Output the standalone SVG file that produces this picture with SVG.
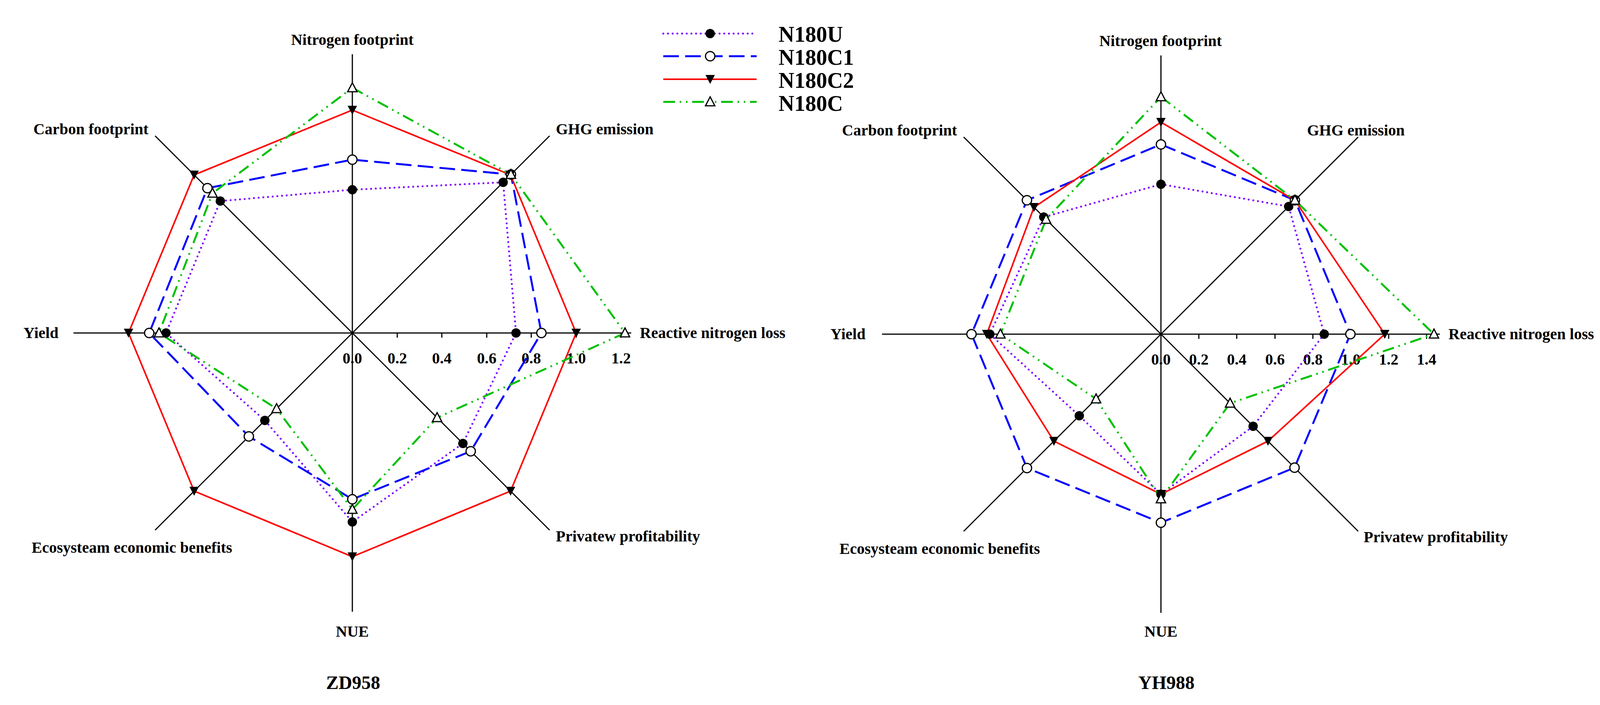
<svg xmlns="http://www.w3.org/2000/svg" xmlns:xlink="http://www.w3.org/1999/xlink" width="4168" height="1806" viewBox="0 0 4168 1806">
<style>
text{font-family:"Liberation Serif","Times New Roman",serif;font-weight:bold;fill:#000}
.lab{font-size:40px}
.tk{font-size:40px;text-anchor:middle}
.leg{font-size:56px}
.ttl{font-size:48px;text-anchor:middle}
.ax{stroke:#000;stroke-width:3;fill:none}
.u{stroke:#7f00ff;stroke-width:5;fill:none;stroke-dasharray:0 12;stroke-linecap:round}
.c1{stroke:#0000ff;stroke-width:5;fill:none;stroke-dasharray:40 16}
.c2{stroke:#ff0000;stroke-width:4;fill:none}
.c{stroke:#00c000;stroke-width:5;fill:none;stroke-dasharray:30 12 4 12 4 12}
</style>
<defs>
<circle id="mU" r="12" fill="#000"/>
<circle id="mC1" r="12" fill="#fff" stroke="#000" stroke-width="3"/>
<polygon id="mC2" points="-12,-11 12,-11 0,12" fill="#000"/>
<polygon id="mC" points="0,-13 12,10 -12,10" fill="#fff" stroke="#000" stroke-width="3"/>
</defs>
<rect width="4168" height="1806" fill="#fff"/>

<g id="legend">
<line class="u" x1="1698" y1="86" x2="1937" y2="86"/><use href="#mU" x="1818" y="86"/>
<line class="c1" x1="1698" y1="144" x2="1937" y2="144"/><use href="#mC1" x="1818" y="144"/>
<line class="c2" x1="1698" y1="203" x2="1937" y2="203"/><use href="#mC2" x="1818" y="203"/>
<line class="c" x1="1698" y1="261" x2="1937" y2="261"/><use href="#mC" x="1818" y="261"/>
<text class="leg" x="1993" y="107">N180U</text>
<text class="leg" x="1993" y="166">N180C1</text>
<text class="leg" x="1993" y="225">N180C2</text>
<text class="leg" x="1993" y="284">N180C</text>
</g>

<g id="chart-ZD958">
<g class="ax">
<line x1="902" y1="139" x2="902" y2="1567"/>
<line x1="188" y1="853" x2="1616" y2="853"/>
<line x1="397" y1="348" x2="1407" y2="1358"/>
<line x1="1407" y1="348" x2="397" y2="1358"/>
<path d="M1017 853v12M1131 853v12M1246 853v12M1360 853v12M1475 853v12M1590 853v12"/>
</g>
<text class="tk" x="902" y="931">0.0</text><text class="tk" x="1017" y="931">0.2</text><text class="tk" x="1131" y="931">0.4</text><text class="tk" x="1246" y="931">0.6</text><text class="tk" x="1360" y="931">0.8</text><text class="tk" x="1475" y="931">1.0</text><text class="tk" x="1590" y="931">1.2</text>
<text class="lab" x="902" y="115" text-anchor="middle">Nitrogen footprint</text>
<text class="lab" x="380" y="344" text-anchor="end">Carbon footprint</text>
<text class="lab" x="1423" y="344">GHG emission</text>
<text class="lab" x="60" y="866">Yield</text>
<text class="lab" x="1638" y="866">Reactive nitrogen loss</text>
<text class="lab" x="81" y="1416">Ecosysteam economic benefits</text>
<text class="lab" x="1423" y="1387">Privatew profitability</text>
<text class="lab" x="902" y="1631" text-anchor="middle">NUE</text>
<text class="ttl" x="904" y="1765">ZD958</text>
<g id="series-ZD958">
<polygon class="u" points="902,486 1288,467 1321,853 1185,1136 902,1337 678,1077 425,853 564,515"/>
<polygon class="c1" points="902,409 1308,447 1386,853 1205,1156 902,1279 637,1118 382,853 531,482"/>
<polygon class="c2" points="902,282 1307,448 1475,853 1307,1258 902,1426 497,1258 329,853 497,448"/>
<polygon class="c" points="902,225 1308,447 1600,853 1119,1070 902,1305 708,1047 407,853 544,495"/>
</g>
<g id="markers-ZD958">
<use href="#mU" x="902" y="486"/><use href="#mU" x="1288" y="467"/><use href="#mU" x="1321" y="853"/><use href="#mU" x="1185" y="1136"/><use href="#mU" x="902" y="1337"/><use href="#mU" x="678" y="1077"/><use href="#mU" x="425" y="853"/><use href="#mU" x="564" y="515"/>
<use href="#mC1" x="902" y="409"/><use href="#mC1" x="1308" y="447"/><use href="#mC1" x="1386" y="853"/><use href="#mC1" x="1205" y="1156"/><use href="#mC1" x="902" y="1279"/><use href="#mC1" x="637" y="1118"/><use href="#mC1" x="382" y="853"/><use href="#mC1" x="531" y="482"/>
<use href="#mC2" x="902" y="282"/><use href="#mC2" x="1307" y="448"/><use href="#mC2" x="1475" y="853"/><use href="#mC2" x="1307" y="1258"/><use href="#mC2" x="902" y="1426"/><use href="#mC2" x="497" y="1258"/><use href="#mC2" x="329" y="853"/><use href="#mC2" x="497" y="448"/>
<use href="#mC" x="902" y="225"/><use href="#mC" x="1308" y="447"/><use href="#mC" x="1600" y="853"/><use href="#mC" x="1119" y="1070"/><use href="#mC" x="902" y="1305"/><use href="#mC" x="708" y="1047"/><use href="#mC" x="407" y="853"/><use href="#mC" x="544" y="495"/>
</g>
</g>

<g id="chart-YH988">
<g class="ax">
<line x1="2972" y1="142" x2="2972" y2="1570"/>
<line x1="2258" y1="856" x2="3686" y2="856"/>
<line x1="2467" y1="351" x2="3477" y2="1361"/>
<line x1="3477" y1="351" x2="2467" y2="1361"/>
<path d="M3069 856v12M3166 856v12M3264 856v12M3361 856v12M3458 856v12M3555 856v12M3652 856v12"/>
</g>
<text class="tk" x="2972" y="934">0.0</text><text class="tk" x="3069" y="934">0.2</text><text class="tk" x="3166" y="934">0.4</text><text class="tk" x="3264" y="934">0.6</text><text class="tk" x="3361" y="934">0.8</text><text class="tk" x="3458" y="934">1.0</text><text class="tk" x="3555" y="934">1.2</text><text class="tk" x="3652" y="934">1.4</text>
<text class="lab" x="2971" y="118" text-anchor="middle">Nitrogen footprint</text>
<text class="lab" x="2450" y="347" text-anchor="end">Carbon footprint</text>
<text class="lab" x="3346" y="347">GHG emission</text>
<text class="lab" x="2126" y="869">Yield</text>
<text class="lab" x="3708" y="869">Reactive nitrogen loss</text>
<text class="lab" x="2149" y="1419">Ecosysteam economic benefits</text>
<text class="lab" x="3491" y="1389">Privatew profitability</text>
<text class="lab" x="2972" y="1631" text-anchor="middle">NUE</text>
<text class="ttl" x="2986" y="1765">YH988</text>
<g id="series-YH988">
<polygon class="u" points="2972,472 3299,529 3390,856 3208,1092 2972,1266 2763,1065 2534,856 2672,556"/>
<polygon class="c1" points="2972,370 3315,513 3457,856 3314,1198 2972,1339 2629,1199 2487,856 2629,513"/>
<polygon class="c2" points="2972,313 3315,513 3545,856 3246,1130 2972,1266 2698,1130 2526,856 2647,531"/>
<polygon class="c" points="2972,248 3315,513 3671,856 3149,1033 2972,1278 2806,1022 2561,856 2678,562"/>
</g>
<g id="markers-YH988">
<use href="#mU" x="2972" y="472"/><use href="#mU" x="3299" y="529"/><use href="#mU" x="3390" y="856"/><use href="#mU" x="3208" y="1092"/><use href="#mU" x="2972" y="1266"/><use href="#mU" x="2763" y="1065"/><use href="#mU" x="2534" y="856"/><use href="#mU" x="2672" y="556"/>
<use href="#mC1" x="2972" y="370"/><use href="#mC1" x="3315" y="513"/><use href="#mC1" x="3457" y="856"/><use href="#mC1" x="3314" y="1198"/><use href="#mC1" x="2972" y="1339"/><use href="#mC1" x="2629" y="1199"/><use href="#mC1" x="2487" y="856"/><use href="#mC1" x="2629" y="513"/>
<use href="#mC2" x="2972" y="313"/><use href="#mC2" x="3315" y="513"/><use href="#mC2" x="3545" y="856"/><use href="#mC2" x="3246" y="1130"/><use href="#mC2" x="2972" y="1266"/><use href="#mC2" x="2698" y="1130"/><use href="#mC2" x="2526" y="856"/><use href="#mC2" x="2647" y="531"/>
<use href="#mC" x="2972" y="248"/><use href="#mC" x="3315" y="513"/><use href="#mC" x="3671" y="856"/><use href="#mC" x="3149" y="1033"/><use href="#mC" x="2972" y="1278"/><use href="#mC" x="2806" y="1022"/><use href="#mC" x="2561" y="856"/><use href="#mC" x="2678" y="562"/>
</g>
</g>
</svg>
